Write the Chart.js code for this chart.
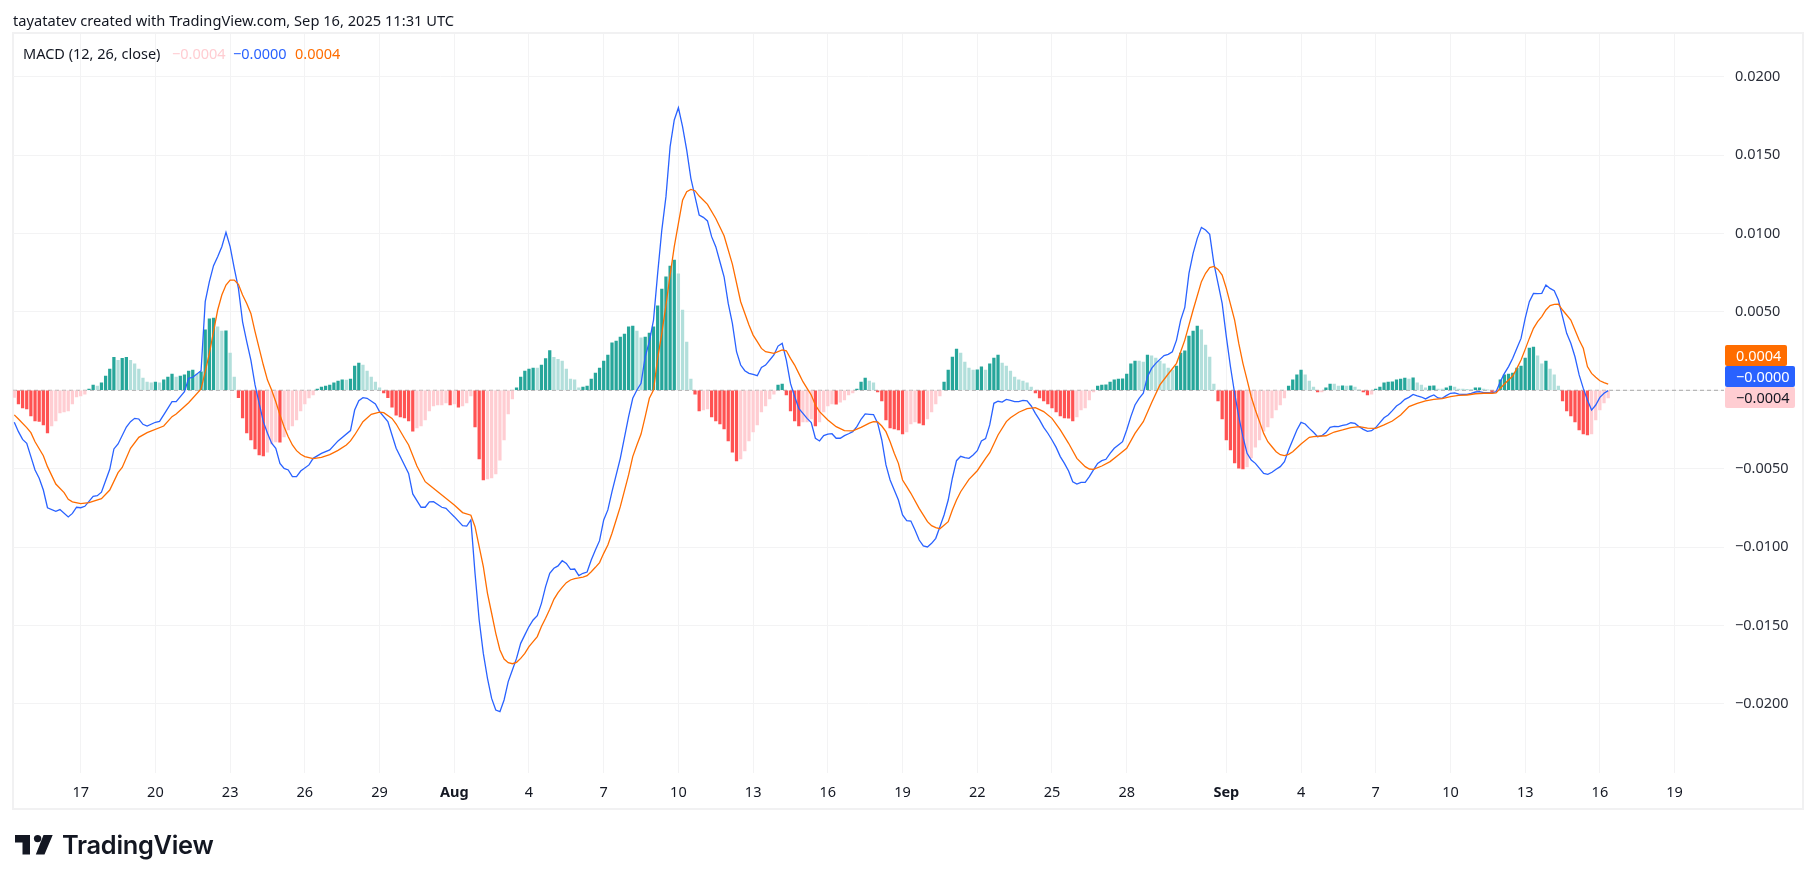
<!DOCTYPE html>
<html lang="en">
<head>
<meta charset="UTF-8">
<title>MACD (12, 26, close)</title>
<script src="https://cdn.jsdelivr.net/npm/chart.js"></script>
<style>
    html, body { margin: 0; background: #fff; overflow: hidden; }
    body { width: 1814px; height: 883px; position: relative; font-family: "Noto Sans", sans-serif; font-size: 14.5px; color: #131722; }
    canvas { position: absolute; left: 0; top: 0; }
    .txt { position: absolute; white-space: nowrap; line-height: 16px; }
    #pane { position: absolute; left: 12px; top: 32px; width: 1788px; height: 774px; border: 2px solid #f1f1f2; }
    .tag { position: absolute; left: 1725px; height: 21px; line-height: 21px; padding-left: 11px; box-sizing: border-box; border-radius: 2px; }
    #logoText { position: absolute; left: 62px; top: 828px; font: 600 25.4px/34px Inter, sans-serif; letter-spacing: -0.3px; color: #131722; }
    #logo { position: absolute; left: 0; top: 0; }
</style>
</head>
<body>
<div id="pane"></div>
<canvas id="macdChart" width="1814" height="883"></canvas>
<div class="txt" style="left:13px;top:12px;font-size:14.65px">tayatatev created with TradingView.com, Sep 16, 2025 11:31 UTC</div>
<div class="txt" style="left:23px;top:45px">MACD (12, 26, close)</div>
<div class="txt" style="left:172px;top:45px;color:#ffcdd2">−0.0004</div>
<div class="txt" style="left:233px;top:45px;color:#2962ff">−0.0000</div>
<div class="txt" style="left:295px;top:45px;color:#ff6d00">0.0004</div>
<div class="tag" style="top:345px;width:62px;background:#ff6d00;color:#fff">0.0004</div>
<div class="tag" style="top:366px;width:70px;background:#2962ff;color:#fff">−0.0000</div>
<div class="tag" style="top:387px;width:70px;background:#ffcdd2;color:#131722">−0.0004</div>
<svg id="logo" width="70" height="883">
    <path d="M15 835H30V854.5H22.5V842.5H15Z M52.7 835H43.5L35.8 854.5H44.5Z" fill="#131722"/>
    <circle cx="37.6" cy="838.6" r="3.7" fill="#131722"/>
</svg>
<div id="logoText">TradingView</div>

<script>
// x axis runs in 4-hour bars, bar 0 is the first bar on the left
const tickBars = [16, 34, 52, 70, 88, 106, 124, 142, 160, 178, 196, 214, 232, 250, 268, 292, 310, 328, 346, 364, 382, 400];
const tickLabels = ['17', '20', '23', '26', '29', 'Aug', '4', '7', '10', '13', '16', '19', '22', '25', '28', 'Sep', '4', '7', '10', '13', '16', '19'];
const priceTicks = [-0.02, -0.015, -0.01, -0.005, 0, 0.005, 0.01, 0.015, 0.02];

const histogram = [
    -0.00045,-0.00087,-0.00113,-0.00119,-0.00164,-0.00196,-0.00198,-0.00221,-0.00272,-0.00228,
    -0.00196,-0.00145,-0.00138,-0.00132,-0.00087,-0.00043,-0.00036,-0.00024,0.00008,0.00034,
    0.00027,0.00047,0.00091,0.00136,0.00210,0.00191,0.00204,0.00210,0.00191,0.00168,
    0.00136,0.00078,0.00053,0.00047,0.00053,0.00047,0.00066,0.00085,0.00104,0.00085,
    0.00091,0.00098,0.00123,0.00129,0.00104,0.00117,0.00385,0.00455,0.00461,0.00404,
    0.00378,0.00379,0.00238,0.00085,-0.00047,-0.00177,-0.00272,-0.00317,-0.00374,-0.00413,
    -0.00419,-0.00394,-0.00342,-0.00330,-0.00331,-0.00298,-0.00253,-0.00228,-0.00189,-0.00132,
    -0.00087,-0.00049,-0.00030,0.00008,0.00021,0.00027,0.00034,0.00047,0.00059,0.00066,
    0.00065,0.00072,0.00155,0.00174,0.00161,0.00123,0.00085,0.00053,0.00015,-0.00017,
    -0.00047,-0.00107,-0.00158,-0.00170,-0.00177,-0.00196,-0.00260,-0.00240,-0.00228,-0.00189,
    -0.00132,-0.00100,-0.00094,-0.00093,-0.00081,-0.00094,-0.00087,-0.00107,-0.00100,-0.00081,
    -0.00036,-0.00234,-0.00438,-0.00572,-0.00566,-0.00559,-0.00534,-0.00445,-0.00317,-0.00151,
    -0.00055,0.00015,0.00085,0.00123,0.00136,0.00142,0.00141,0.00161,0.00202,0.00253,
    0.00210,0.00198,0.00187,0.00136,0.00072,0.00066,0.00015,0.00021,0.00027,0.00072,
    0.00110,0.00142,0.00187,0.00225,0.00302,0.00314,0.00340,0.00359,0.00404,0.00410,
    0.00378,0.00334,0.00340,0.00365,0.00404,0.00538,0.00646,0.00723,0.00793,0.00831,
    0.00742,0.00512,0.00308,0.00072,-0.00024,-0.00132,-0.00126,-0.00119,-0.00170,-0.00196,
    -0.00215,-0.00247,-0.00323,-0.00394,-0.00451,-0.00438,-0.00387,-0.00323,-0.00266,-0.00221,
    -0.00138,-0.00100,-0.00055,-0.00024,0.00034,0.00040,-0.00030,-0.00132,-0.00196,-0.00228,
    -0.00202,-0.00201,-0.00183,-0.00228,-0.00202,-0.00138,-0.00100,-0.00087,-0.00088,-0.00075,
    -0.00062,-0.00030,-0.00017,0.00008,0.00053,0.00078,0.00059,0.00047,-0.00011,-0.00068,
    -0.00189,-0.00240,-0.00247,-0.00253,-0.00279,-0.00266,-0.00215,-0.00202,-0.00209,-0.00221,
    -0.00183,-0.00138,-0.00087,-0.00036,0.00053,0.00129,0.00212,0.00263,0.00238,0.00180,
    0.00142,0.00129,0.00130,0.00149,0.00129,0.00168,0.00206,0.00225,0.00174,0.00155,
    0.00123,0.00085,0.00066,0.00059,0.00047,0.00021,-0.00017,-0.00049,-0.00068,-0.00087,
    -0.00113,-0.00138,-0.00164,-0.00177,-0.00178,-0.00196,-0.00170,-0.00126,-0.00113,-0.00062,
    -0.00011,0.00027,0.00034,0.00035,0.00053,0.00066,0.00072,0.00073,0.00104,0.00168,
    0.00187,0.00186,0.00180,0.00225,0.00219,0.00206,0.00187,0.00168,0.00142,0.00129,
    0.00155,0.00238,0.00251,0.00346,0.00378,0.00410,0.00385,0.00289,0.00212,0.00040,
    -0.00068,-0.00183,-0.00317,-0.00381,-0.00464,-0.00496,-0.00502,-0.00489,-0.00432,-0.00362,
    -0.00317,-0.00260,-0.00234,-0.00177,-0.00126,-0.00094,-0.00049,0.00027,0.00066,0.00098,
    0.00129,0.00098,0.00059,0.00021,-0.00011,-0.00010,0.00015,0.00040,0.00039,0.00027,
    0.00028,0.00027,0.00028,0.00021,0.00002,-0.00011,-0.00030,-0.00024,0.00008,0.00021,
    0.00047,0.00053,0.00054,0.00066,0.00072,0.00078,0.00072,0.00079,0.00047,0.00034,
    0.00015,0.00027,0.00028,0.00008,0.00007,0.00015,0.00027,0.00021,0.00008,0.00007,
    0.00006,0.00005,0.00015,0.00016,0.00008,0.00002,-0.00011,-0.00002,0.00066,0.00098,
    0.00104,0.00110,0.00142,0.00155,0.00206,0.00270,0.00276,0.00219,0.00168,0.00187,
    0.00136,0.00098,0.00027,-0.00068,-0.00132,-0.00164,-0.00202,-0.00253,-0.00279,-0.00285,
    -0.00279,-0.00189,-0.00126,-0.00081,-0.00049
];

// null = bar not read off the picture, the line just spans it
const macdLine = [
    -0.00204,-0.00264,-0.00313,-0.00338,-0.00423,-0.00508,-0.00561,-0.00636,-0.00749,null,
    -0.00772,-0.00761,null,-0.00808,-0.00785,-0.00746,-0.00749,-0.00740,null,-0.00676,
    -0.00672,-0.00650,null,-0.00504,-0.00374,-0.00342,null,-0.00234,-0.00200,-0.00179,
    -0.00183,-0.00217,-0.00228,null,-0.00204,-0.00198,-0.00157,null,-0.00072,-0.00072,
    null,-0.00009,0.00076,0.00083,null,0.00125,0.00565,0.00693,0.00795,0.00852,
    0.00916,0.01007,0.00916,0.00778,0.00650,0.00437,0.00310,0.00193,0.00034,-0.00083,
    -0.00200,-0.00274,-0.00338,-0.00370,-0.00466,-0.00498,-0.00508,-0.00551,-0.00551,-0.00515,
    null,-0.00476,-0.00434,null,-0.00402,null,-0.00380,null,-0.00323,null,
    null,-0.00257,-0.00126,-0.00066,-0.00047,-0.00051,null,-0.00087,-0.00136,null,
    -0.00200,-0.00285,-0.00370,null,null,-0.00530,-0.00661,null,-0.00746,-0.00746,
    -0.00712,-0.00710,null,-0.00746,-0.00753,-0.00780,-0.00806,null,-0.00863,-0.00866,
    -0.00827,-0.01167,-0.01465,-0.01678,-0.01837,-0.01965,-0.02039,-0.02050,-0.01975,-0.01858,
    -0.01784,-0.01710,-0.01614,-0.01560,-0.01507,-0.01465,-0.01437,-0.01359,-0.01252,-0.01167,
    -0.01135,-0.01120,-0.01087,-0.01104,-0.01142,-0.01140,-0.01182,-0.01167,-0.01159,-0.01082,
    -0.01018,-0.00959,-0.00827,-0.00763,-0.00646,null,-0.00434,null,-0.00168,-0.00051,
    0.00002,0.00044,0.00214,0.00310,0.00448,0.00746,0.01022,0.01235,0.01554,0.01724,
    0.01802,0.01681,0.01532,0.01352,0.01235,0.01118,0.01103,0.01080,0.00980,0.00916,
    0.00820,0.00724,0.00554,0.00427,0.00246,0.00161,0.00125,0.00108,0.00102,0.00093,
    0.00146,0.00161,0.00193,0.00225,0.00282,0.00299,0.00193,0.00044,-0.00040,-0.00115,
    -0.00147,-0.00179,-0.00206,-0.00306,-0.00323,-0.00289,-0.00279,-0.00277,-0.00306,-0.00306,
    -0.00289,-0.00277,-0.00264,-0.00232,-0.00185,-0.00151,-0.00153,-0.00155,-0.00210,-0.00317,
    -0.00476,-0.00572,-0.00636,-0.00700,-0.00795,-0.00831,-0.00834,-0.00891,-0.00955,-0.00993,
    -0.00999,-0.00976,-0.00944,-0.00870,-0.00795,-0.00700,-0.00561,-0.00449,-0.00421,-0.00430,
    -0.00434,-0.00413,-0.00385,-0.00323,-0.00308,-0.00221,-0.00083,-0.00070,-0.00075,-0.00058,
    -0.00064,-0.00072,-0.00072,-0.00064,-0.00068,-0.00100,-0.00147,-0.00189,-0.00236,-0.00274,
    -0.00317,-0.00364,-0.00423,-0.00466,-0.00515,-0.00583,-0.00598,-0.00587,-0.00587,-0.00550,
    -0.00508,-0.00466,-0.00449,-0.00440,-0.00402,-0.00370,-0.00349,-0.00328,-0.00253,-0.00168,
    -0.00094,-0.00051,-0.00019,0.00087,0.00140,0.00172,0.00197,0.00221,0.00229,0.00246,
    0.00320,0.00448,0.00529,0.00746,0.00873,0.00969,0.01039,0.01022,0.00995,0.00810,
    0.00682,0.00554,0.00342,0.00150,-0.00019,-0.00168,-0.00296,-0.00402,-0.00445,-0.00466,
    -0.00498,-0.00530,-0.00536,-0.00523,-0.00504,-0.00487,-0.00455,-0.00381,-0.00317,-0.00253,
    -0.00205,-0.00215,-0.00243,-0.00268,-0.00296,-0.00290,-0.00270,-0.00236,-0.00230,-0.00232,
    -0.00224,-0.00219,-0.00207,-0.00211,-0.00232,-0.00249,-0.00262,-0.00258,-0.00238,-0.00206,
    -0.00175,-0.00158,-0.00130,-0.00100,-0.00083,-0.00058,-0.00045,-0.00026,-0.00036,-0.00043,
    -0.00055,-0.00040,-0.00030,-0.00049,-0.00051,-0.00034,-0.00019,-0.00017,-0.00024,-0.00026,
    -0.00026,-0.00019,-0.00011,-0.00009,-0.00015,-0.00015,-0.00017,-0.00009,0.00055,0.00108,
    0.00151,0.00204,0.00268,0.00331,0.00459,0.00565,0.00618,0.00616,0.00618,0.00672,
    0.00650,0.00635,0.00576,0.00470,0.00363,0.00300,0.00214,0.00098,0.00012,-0.00062,
    -0.00126,-0.00094,-0.00045,-0.00019,-0.00002
];

const signalLine = [
    -0.00157,-0.00183,null,-0.00238,-0.00270,-0.00328,null,-0.00417,-0.00487,null,
    -0.00598,null,-0.00653,-0.00695,-0.00711,null,-0.00723,null,-0.00717,null,
    null,-0.00691,null,-0.00636,null,-0.00525,-0.00492,null,-0.00370,null,
    -0.00300,null,-0.00270,null,null,null,-0.00228,null,-0.00168,-0.00151,
    null,null,-0.00079,null,null,0.00008,0.00119,0.00236,0.00374,0.00512,
    0.00608,0.00671,0.00703,0.00703,0.00676,0.00608,0.00554,0.00490,0.00374,0.00267,
    0.00161,0.00065,0.00002,-0.00073,-0.00157,-0.00232,-0.00296,-0.00349,-0.00385,-0.00408,
    -0.00423,null,-0.00436,null,-0.00428,null,-0.00410,null,-0.00383,null,
    -0.00349,-0.00323,-0.00285,null,-0.00200,null,-0.00153,null,-0.00140,-0.00143,
    null,-0.00179,-0.00215,null,-0.00306,-0.00349,null,-0.00483,null,-0.00583,
    -0.00604,null,null,-0.00668,null,null,-0.00732,null,-0.00780,null,
    -0.00797,-0.00870,-0.00997,-0.01125,-0.01295,-0.01422,-0.01550,-0.01656,-0.01714,-0.01737,
    -0.01744,-0.01735,-0.01710,-0.01678,-0.01635,-0.01603,-0.01571,-0.01507,-0.01454,-0.01397,
    -0.01333,-0.01290,-0.01257,-0.01227,-0.01210,-0.01201,-0.01197,-0.01191,-0.01182,-0.01157,
    -0.01129,-0.01099,-0.01040,-0.00987,-0.00912,-0.00827,-0.00742,null,-0.00540,-0.00423,
    -0.00349,-0.00279,-0.00168,-0.00051,0.00002,0.00204,0.00363,0.00544,0.00735,0.00916,
    0.01065,0.01213,0.01267,0.01281,0.01273,0.01239,null,0.01186,null,0.01096,
    null,0.00986,null,0.00805,null,0.00565,null,0.00416,0.00352,0.00310,
    0.00267,0.00246,null,0.00235,null,0.00257,0.00252,0.00204,0.00161,0.00108,
    0.00055,0.00012,-0.00030,-0.00094,-0.00136,null,-0.00189,null,-0.00232,null,
    -0.00257,null,-0.00259,null,-0.00236,null,-0.00210,-0.00200,-0.00202,-0.00228,
    -0.00264,-0.00328,-0.00402,-0.00466,-0.00572,-0.00615,-0.00657,null,-0.00753,null,
    -0.00838,-0.00863,-0.00876,-0.00883,-0.00861,-0.00838,-0.00763,-0.00700,-0.00647,null,
    -0.00568,null,-0.00513,null,-0.00434,-0.00398,null,-0.00285,null,-0.00200,
    -0.00175,null,-0.00140,null,-0.00117,null,-0.00111,null,-0.00136,null,
    -0.00179,null,-0.00253,null,-0.00338,null,-0.00434,null,-0.00487,-0.00502,
    -0.00504,null,-0.00483,null,-0.00455,null,-0.00413,null,-0.00370,null,
    -0.00275,null,-0.00200,null,-0.00079,null,0.00034,null,0.00104,null,
    0.00172,null,0.00320,null,0.00512,null,0.00693,0.00746,0.00782,0.00790,
    0.00771,0.00735,0.00650,null,0.00448,0.00299,0.00172,0.00066,-0.00041,-0.00126,
    -0.00200,-0.00275,-0.00328,-0.00360,-0.00392,-0.00411,-0.00417,-0.00409,-0.00392,null,
    -0.00343,null,-0.00300,-0.00296,null,null,-0.00290,null,-0.00266,null,
    -0.00253,null,-0.00238,null,-0.00232,null,-0.00241,null,-0.00243,null,
    -0.00221,null,-0.00196,null,-0.00158,null,-0.00104,null,-0.00083,null,
    -0.00068,null,-0.00058,null,-0.00053,null,-0.00040,null,-0.00032,null,
    -0.00030,null,-0.00022,null,-0.00019,null,-0.00019,-0.00017,0.00012,0.00040,
    0.00066,0.00091,0.00140,0.00193,0.00261,0.00331,0.00395,0.00438,0.00470,0.00512,
    0.00540,0.00548,0.00550,0.00512,0.00480,0.00448,0.00384,0.00321,0.00268,0.00151,
    0.00108,0.00083,0.00061,0.00049,0.00040
];

const xMin = -0.31, xMax = 411.9;
const yMin = -0.02439, yMax = 0.022724;

function barColor(i) {
    const v = histogram[i];
    const rising = i > 0 && v > histogram[i - 1];
    if (v >= 0) return rising ? '#26a69a' : '#b2dfdb';
    return rising || i === 0 ? '#ffcdd2' : '#ff5252';
}

function toPoints(values) {
    return values.map((v, i) => ({ x: i, y: v }));
}

new Chart(document.getElementById('macdChart'), {
    type: 'bar',
    data: {
        datasets: [
            {
                type: 'line', data: toPoints(signalLine), borderColor: '#ff6d00', borderWidth: 1.3,
                pointRadius: 0, spanGaps: true, tension: 0, order: 0
            },
            {
                type: 'line', data: toPoints(macdLine), borderColor: '#2962ff', borderWidth: 1.3,
                pointRadius: 0, spanGaps: true, tension: 0, order: 1
            },
            {
                type: 'bar', data: toPoints(histogram), barThickness: 2.6,
                backgroundColor: ctx => barColor(ctx.dataIndex), order: 2
            },
            {
                type: 'line', data: [{ x: xMin, y: 0 }, { x: xMax, y: 0 }], borderColor: '#a8a8a8', borderWidth: 1,
                borderDash: [4, 3], pointRadius: 0, order: 3
            }
        ]
    },
    options: {
        responsive: false,
        animation: false,
        devicePixelRatio: 1,
        layout: { padding: { left: 13, top: 34, right: 13, bottom: 76 } },
        plugins: { legend: { display: false }, tooltip: { enabled: false } },
        scales: {
            x: {
                type: 'linear', min: xMin, max: xMax, offset: false,
                afterBuildTicks: scale => { scale.ticks = tickBars.map(v => ({ value: v })); },
                afterFit: scale => { scale.height = 34.3; },
                grid: { color: '#f3f3f4', lineWidth: 1, drawTicks: false, offset: false },
                border: { display: false },
                ticks: {
                    autoSkip: false, maxRotation: 0, padding: 11, color: '#131722',
                    callback: (value, index) => tickLabels[index],
                    font: ctx => {
                        const label = ctx.tick ? tickLabels[tickBars.indexOf(ctx.tick.value)] : '';
                        return { family: '"Noto Sans"', size: 14.5, weight: label === 'Aug' || label === 'Sep' ? 'bold' : 'normal' };
                    }
                }
            },
            y: {
                position: 'right', min: yMin, max: yMax,
                afterBuildTicks: scale => { scale.ticks = priceTicks.map(v => ({ value: v })); },
                afterFit: scale => { scale.width = 77; },
                grid: { color: '#f3f3f4', lineWidth: 1, drawTicks: false },
                border: { display: false },
                ticks: {
                    padding: 11, color: '#2a2e39', crossAlign: 'near',
                    font: { family: '"Noto Sans"', size: 14.5 },
                    callback: value => (value < 0 ? '−' : '') + Math.abs(value).toFixed(4)
                }
            }
        }
    }
});
</script>
</body>
</html>
